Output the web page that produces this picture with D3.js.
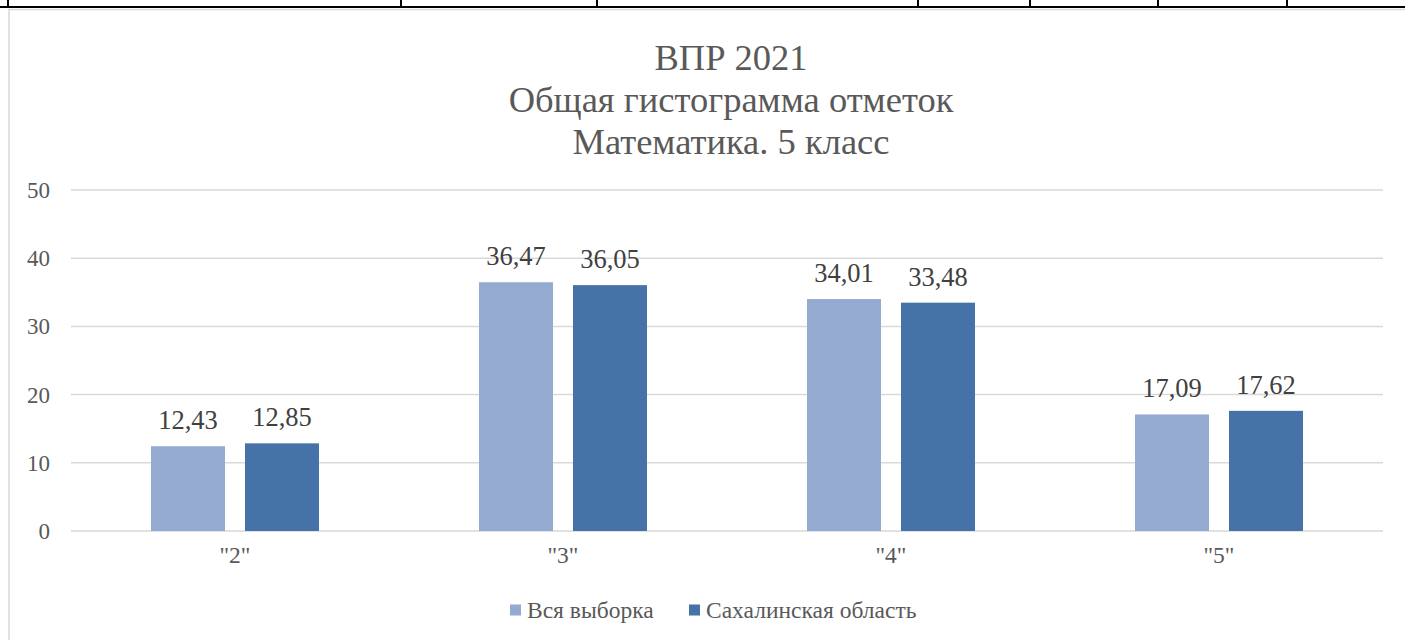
<!DOCTYPE html>
<html><head><meta charset="utf-8"><script src="https://cdn.jsdelivr.net/npm/d3@7"></script></head>
<body style="margin:0">
<script>
const titleLines = ["ВПР 2021", "Общая гистограмма отметок", "Математика. 5 класс"];
const categories = ['"2"', '"3"', '"4"', '"5"'];
const seriesNames = ["Вся выборка", "Сахалинская область"];
const seriesColors = ["#95AAD1", "#4572A7"];
const allSample = [12.43, 36.47, 34.01, 17.09];
const sakhalin = [12.85, 36.05, 33.48, 17.62];
const yTicks = [0, 10, 20, 30, 40, 50];
// column positions of the table row above the chart
const tableCols = [8, 401, 597, 918, 1030, 1158, 1287];

const width = 1405;
const height = 640;
const plot = { left: 71, right: 1383, top: 190, bottom: 531 };
const serif = "Times New Roman";

const svg = d3.select("body")
	.append("svg")
	.attr("width", width)
	.attr("height", height)
	.style("display", "block");

// table fragment at the top
svg.append("line")
	.attr("x1", 0).attr("x2", width)
	.attr("y1", 7).attr("y2", 7)
	.attr("stroke", "#000").attr("stroke-width", 2);
svg.append("g")
	.selectAll("line")
	.data(tableCols)
	.enter()
	.append("line")
		.attr("x1", d => d).attr("x2", d => d)
		.attr("y1", 0).attr("y2", 7)
		.attr("stroke", "#000").attr("stroke-width", 2);

// chart area border
svg.append("path")
	.attr("d", `M 9 ${height} L 9 9.5 L ${width} 9.5`)
	.attr("fill", "none")
	.attr("stroke", "#D9D9D9")
	.attr("stroke-width", 1.5);

const label = (sel, size, color) => sel
	.style("font-family", `"${serif}"`)
	.attr("font-size", size)
	.attr("fill", color);

// title
svg.append("g")
	.selectAll("text")
	.data(titleLines)
	.enter()
	.append("text")
		.attr("x", 731)
		.attr("y", (d, i) => 70 + i * 42)
		.attr("text-anchor", "middle")
		.call(label, 36.5, "#595959")
		.text(d => d);

// scales
const x0 = d3.scaleBand()
	.domain(categories)
	.range([plot.left, plot.right])
	.paddingInner(160 / 328)
	.paddingOuter(80 / 328);

const x1 = d3.scaleBand()
	.domain(seriesNames)
	.range([0, x0.bandwidth()])
	.paddingInner(20 / 94);

const y = d3.scaleLinear()
	.domain([0, 50])
	.range([plot.bottom, plot.top]);

// gridlines
svg.append("g")
	.selectAll("line")
	.data(yTicks)
	.enter()
	.append("line")
		.attr("x1", plot.left).attr("x2", plot.right)
		.attr("y1", d => y(d)).attr("y2", d => y(d))
		.attr("stroke", "#D9D9D9")
		.attr("stroke-width", 1.5);

// y axis labels
svg.append("g")
	.selectAll("text")
	.data(yTicks)
	.enter()
	.append("text")
		.attr("x", 50)
		.attr("y", d => y(d) + 8)
		.attr("text-anchor", "end")
		.call(label, 23, "#595959")
		.text(d => d);

// category labels
svg.append("g")
	.selectAll("text")
	.data(categories)
	.enter()
	.append("text")
		.attr("x", d => x0(d) + x0.bandwidth() / 2)
		.attr("y", 563)
		.attr("text-anchor", "middle")
		.call(label, 23.5, "#595959")
		.text(d => d);

// bars
const rows = categories.map((c, i) => ({
	cat: c,
	values: [allSample[i], sakhalin[i]].map((v, j) => ({ series: seriesNames[j], value: v, color: seriesColors[j] }))
}));

const groups = svg.append("g")
	.selectAll("g")
	.data(rows)
	.enter()
	.append("g")
		.attr("transform", d => `translate(${x0(d.cat)},0)`);

groups.selectAll("rect")
	.data(d => d.values)
	.enter()
	.append("rect")
		.attr("x", d => x1(d.series))
		.attr("y", d => y(d.value))
		.attr("width", x1.bandwidth())
		.attr("height", d => y(0) - y(d.value))
		.attr("fill", d => d.color);

groups.selectAll("text")
	.data(d => d.values)
	.enter()
	.append("text")
		.attr("x", d => x1(d.series) + x1.bandwidth() / 2)
		.attr("y", d => y(d.value) - 17)
		.attr("text-anchor", "middle")
		.call(label, 26.5, "#404040")
		.text(d => d.value.toFixed(2).replace(".", ","));

// legend
const legendX = [510, 689];
const legend = svg.append("g")
	.selectAll("g")
	.data(seriesNames)
	.enter()
	.append("g")
		.attr("transform", (d, i) => `translate(${legendX[i]},610)`);
legend.append("rect")
	.attr("x", 0).attr("y", -5.5)
	.attr("width", 11).attr("height", 11)
	.attr("fill", (d, i) => seriesColors[i]);
legend.append("text")
	.attr("x", 17)
	.attr("y", 8)
	.call(label, 23.5, "#595959")
	.text(d => d);
</script>
</body></html>
